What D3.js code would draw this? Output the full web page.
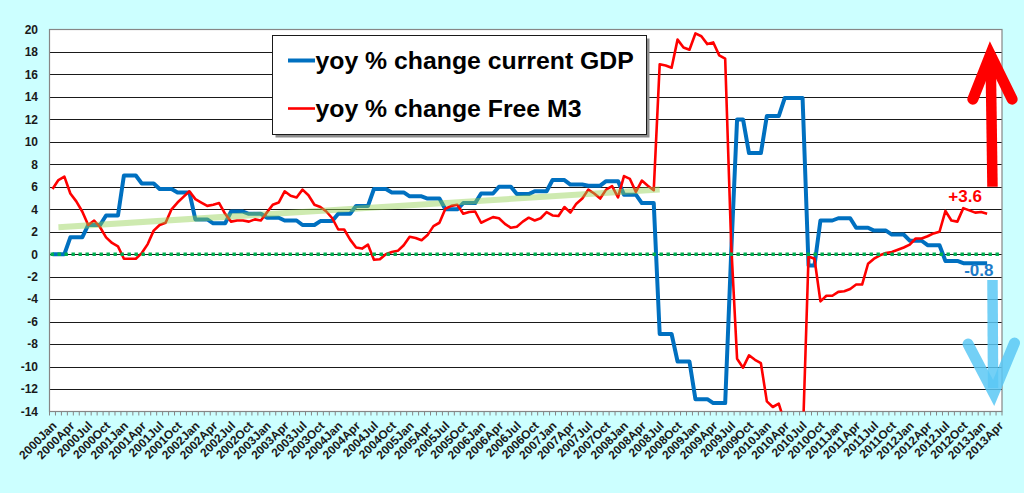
<!DOCTYPE html>
<html>
<head>
<meta charset="utf-8">
<script src="https://cdn.jsdelivr.net/npm/d3@7/dist/d3.min.js"></script>
<style>
  html, body { margin: 0; padding: 0; background: #ccffff; }
  svg { display: block; font-family: "Liberation Sans", Arial, sans-serif; }
</style>
</head>
<body>
<svg id="chart" width="1024" height="493"></svg>
<script>
// categories
const years = [2000, 2001, 2002, 2003, 2004, 2005, 2006, 2007, 2008, 2009, 2010, 2011, 2012, 2013];
const monthNames = ["Jan", "Feb", "Mar", "Apr", "May", "Jun", "Jul", "Aug", "Sep", "Oct", "Nov", "Dec"];
const lastMonth = "2013Apr";

// yoy % change current GDP (quarterly values, repeated monthly)
const gdp = [
  0, 0, 0, 1.5, 1.5, 1.5, 2.6, 2.6, 2.6, 3.45, 3.45, 3.45,
  7.0, 7.0, 7.0, 6.3, 6.3, 6.3, 5.8, 5.8, 5.8, 5.5, 5.5, 5.5,
  3.1, 3.1, 3.1, 2.75, 2.75, 2.75, 3.8, 3.8, 3.8, 3.6, 3.6, 3.6,
  3.25, 3.25, 3.25, 3.0, 3.0, 3.0, 2.6, 2.6, 2.6, 2.95, 2.95, 2.95,
  3.6, 3.6, 3.6, 4.3, 4.3, 4.3, 5.8, 5.8, 5.8, 5.5, 5.5, 5.5,
  5.15, 5.15, 5.15, 4.95, 4.95, 4.95, 4.0, 4.0, 4.0, 4.55, 4.55, 4.55,
  5.4, 5.4, 5.4, 6.0, 6.0, 6.0, 5.35, 5.35, 5.35, 5.6, 5.6, 5.6,
  6.6, 6.6, 6.6, 6.2, 6.2, 6.2, 6.1, 6.1, 6.1, 6.5, 6.5, 6.5,
  5.3, 5.3, 5.3, 4.55, 4.55, 4.55, -7.1, -7.1, -7.1, -9.55, -9.55, -9.55,
  -12.9, -12.9, -12.9, -13.25, -13.25, -13.25, 0, 12.0, 12.0, 9.0, 9.0, 9.0,
  12.3, 12.3, 12.3, 13.9, 13.9, 13.9, 13.9, -1.0, -1.0, 3.0, 3.0, 3.0,
  3.2, 3.2, 3.2, 2.35, 2.35, 2.35, 2.1, 2.1, 2.1, 1.75, 1.75, 1.75,
  1.2, 1.2, 1.2, 0.8, 0.8, 0.8, -0.6, -0.6, -0.6, -0.8, -0.8, -0.8,
  -0.8, -0.8
];

// yoy % change Free M3 (monthly)
const freeM3 = [
  5.8, 6.6, 6.9, 5.4, 4.7, 3.8, 2.6, 3.0, 2.4, 1.5, 1.0, 0.7,
  -0.4, -0.4, -0.4, 0.1, 0.9, 2.1, 2.6, 2.8, 4.0, 4.6, 5.1, 5.6,
  4.9, 4.6, 4.3, 4.4, 4.55, 3.6, 2.9, 3.0, 3.0, 2.9, 3.1, 3.0,
  3.7, 4.4, 4.6, 5.6, 5.2, 5.05, 5.75, 5.25, 4.4, 4.2, 3.8, 3.2,
  2.2, 2.2, 1.3, 0.6, 0.5, 0.85, -0.5, -0.45, 0.0, 0.2, 0.3, 0.8,
  1.55, 1.45, 1.25, 1.7, 2.5, 2.8, 4.05, 4.3, 4.4, 3.6, 3.75, 3.8,
  2.8, 3.05, 3.3, 3.2, 2.7, 2.35, 2.45, 2.9, 3.25, 3.0, 3.2, 3.75,
  3.45, 3.4, 4.2, 3.7, 4.5, 4.95, 5.75, 5.4, 4.95, 5.75, 6.05, 5.05,
  6.95, 6.7, 5.55, 6.55, 6.1, 5.7, 16.9, 16.8, 16.6, 19.1, 18.4, 18.2,
  19.65, 19.4, 18.7, 18.85, 17.7, 17.4, 1.0, -9.3, -10.1, -9.0, -9.4, -9.7,
  -13.1, -13.6, -13.3, -15.0, -16.0, -16.5, -17.0, -0.2, -0.4, -4.2, -3.7, -3.7,
  -3.35, -3.3, -3.1, -2.7, -2.7, -0.85, -0.4, -0.1, 0.1, 0.2, 0.4, 0.6,
  0.85, 1.4, 1.4, 1.6, 1.85, 2.0, 3.85, 3.0, 2.9, 4.1, 3.9, 3.7,
  3.75, 3.6
];

const yTicks = [20, 18, 16, 14, 12, 10, 8, 6, 4, 2, 0, -2, -4, -6, -8, -10, -12, -14];
const seriesNames = ["yoy % change current GDP", "yoy % change Free M3"];

// hand-drawn trend band (month index, value)
const trendPts = [[1, 2.4], [102, 5.75]];
// annotations on the right
const endLabels = [
  { text: "+3.6", i: 153.3, v: 4.65, color: "#ff0000" },
  { text: "-0.8", i: 155.6, v: -1.95, color: "#1f7cc8" }
];

const months = [];
years.forEach(y => monthNames.forEach(m => {
  if (months.length && months[months.length - 1] === lastMonth) return;
  months.push(y + m);
}));

const svg = d3.select("#chart");
const plot = { left: 49.5, right: 1002, top: 29.5, bottom: 411.5 };

const x = d3.scaleBand()
  .domain(months)
  .range([plot.left, plot.right])
  .padding(0);
const bw = x.bandwidth();
const xi = i => plot.left + (i + 0.5) * bw;

const y = d3.scaleLinear()
  .domain([-14, 20])
  .range([plot.bottom, plot.top]);

// plot background
svg.append("rect")
  .attr("x", plot.left).attr("y", plot.top)
  .attr("width", plot.right - plot.left)
  .attr("height", plot.bottom - plot.top)
  .attr("fill", "#ffffff");

// gridlines
svg.append("g")
  .selectAll("line")
  .data(yTicks.filter(d => d > -14 && d < 20))
  .enter().append("line")
  .attr("x1", plot.left).attr("x2", plot.right)
  .attr("y1", d => Math.round(y(d)) + 0.5)
  .attr("y2", d => Math.round(y(d)) + 0.5)
  .attr("stroke", "#1a1a1a")
  .attr("stroke-width", 1);

// plot border
svg.append("rect")
  .attr("x", plot.left).attr("y", plot.top)
  .attr("width", plot.right - plot.left)
  .attr("height", plot.bottom - plot.top)
  .attr("fill", "none")
  .attr("stroke", "#868686")
  .attr("stroke-width", 1.2);

// y labels
svg.append("g")
  .selectAll("text")
  .data(yTicks)
  .enter().append("text")
  .attr("x", 38)
  .attr("y", d => y(d))
  .attr("dy", "0.36em")
  .attr("text-anchor", "end")
  .style("font-size", "12px")
  .style("font-weight", "bold")
  .style("fill", "#1a1a1a")
  .text(d => d);

// x axis ticks (category boundaries)
svg.append("g")
  .selectAll("line")
  .data(d3.range(months.length + 1))
  .enter().append("line")
  .attr("x1", k => plot.left + k * bw)
  .attr("x2", k => plot.left + k * bw)
  .attr("y1", plot.bottom)
  .attr("y2", plot.bottom + 4)
  .attr("stroke", "#868686")
  .attr("stroke-width", 1);

// x labels every quarter
svg.append("g")
  .selectAll("text")
  .data(months.filter((m, i) => i % 3 === 0))
  .enter().append("text")
  .attr("transform", d => `translate(${x(d) + bw / 2 + 5},${plot.bottom + 15}) rotate(-45)`)
  .attr("text-anchor", "end")
  .style("font-size", "12px")
  .style("font-weight", "bold")
  .style("fill", "#1a1a1a")
  .text(d => d);

// series
svg.append("defs").append("clipPath")
  .attr("id", "plot-clip")
  .append("rect")
  .attr("x", plot.left).attr("y", plot.top)
  .attr("width", plot.right - plot.left)
  .attr("height", plot.bottom - plot.top);

const line = d3.line()
  .x((d, i) => xi(i))
  .y(d => y(d));

const lines = svg.append("g").attr("clip-path", "url(#plot-clip)");

lines.append("path")
  .datum(gdp)
  .attr("d", line)
  .attr("fill", "none")
  .attr("stroke", "#0070c0")
  .attr("stroke-width", 4)
  .attr("stroke-linejoin", "round");

lines.append("path")
  .datum(freeM3)
  .attr("d", line)
  .attr("fill", "none")
  .attr("stroke", "#ff0000")
  .attr("stroke-width", 2.6)
  .attr("stroke-linejoin", "round");

// trend band
svg.append("line")
  .attr("x1", xi(trendPts[0][0])).attr("y1", y(trendPts[0][1]))
  .attr("x2", xi(trendPts[1][0])).attr("y2", y(trendPts[1][1]))
  .attr("stroke", "rgba(146, 208, 80, 0.45)")
  .attr("stroke-width", 6);

// zero line
svg.append("line")
  .attr("x1", plot.left + 1).attr("x2", plot.right)
  .attr("y1", y(0)).attr("y2", y(0))
  .attr("stroke", "#00b050")
  .attr("stroke-width", 3.4)
  .attr("stroke-dasharray", "3.4,3.6");

// legend
const legend = svg.append("g");
legend.append("rect")
  .attr("x", 275.5).attr("y", 38.5)
  .attr("width", 374).attr("height", 99)
  .attr("fill", "#8c8c8c");
legend.append("rect")
  .attr("x", 272.5).attr("y", 35.5)
  .attr("width", 374).attr("height", 99)
  .attr("fill", "#ffffff")
  .attr("stroke", "#1a1a1a")
  .attr("stroke-width", 1);

const legendColors = ["#0070c0", "#ff0000"];
const legendWidths = [4, 2.6];
seriesNames.forEach((name, k) => {
  const ly = 60.5 + k * 48;
  legend.append("line")
    .attr("x1", 288).attr("x2", 315)
    .attr("y1", ly).attr("y2", ly)
    .attr("stroke", legendColors[k])
    .attr("stroke-width", legendWidths[k]);
  legend.append("text")
    .attr("x", 315.5)
    .attr("y", ly + 8.3)
    .style("font-size", "24.8px")
    .style("font-weight", "bold")
    .style("fill", "#000")
    .text(name);
});

// arrows
const arrows = svg.append("g");
arrows.append("path")
  .attr("d", `M${xi(157.9)},${y(6.0)} L${xi(157.6)},${y(17.3)}`)
  .attr("stroke", "#ff0000")
  .attr("stroke-width", 10.5)
  .attr("fill", "none");
arrows.append("path")
  .attr("d", `M${xi(154.6)},${y(13.8)} L${xi(157.55)},${y(17.75)} L${xi(161.2)},${y(13.8)}`)
  .attr("stroke", "#ff0000")
  .attr("stroke-width", 11)
  .attr("stroke-linecap", "round")
  .attr("stroke-linejoin", "miter")
  .attr("fill", "none");

arrows.append("path")
  .attr("d", `M${xi(157.9)},${y(-2.3)} L${xi(158.0)},${y(-11.9)}`)
  .attr("stroke", "#5ac8f5")
  .attr("stroke-opacity", 0.85)
  .attr("stroke-width", 10.5)
  .attr("fill", "none");
arrows.append("path")
  .attr("d", `M${xi(153.8)},${y(-8.0)} L${xi(158.1)},${y(-12.35)} L${xi(161.6)},${y(-7.9)}`)
  .attr("stroke", "#5ac8f5")
  .attr("stroke-opacity", 0.85)
  .attr("stroke-width", 11)
  .attr("stroke-linecap", "round")
  .attr("stroke-linejoin", "miter")
  .attr("fill", "none");

// end labels
svg.append("g")
  .selectAll("text")
  .data(endLabels)
  .enter().append("text")
  .attr("x", d => xi(d.i))
  .attr("y", d => y(d.v))
  .attr("text-anchor", "middle")
  .style("font-size", "17px")
  .style("font-weight", "bold")
  .style("fill", d => d.color)
  .text(d => d.text);
</script>
</body>
</html>
